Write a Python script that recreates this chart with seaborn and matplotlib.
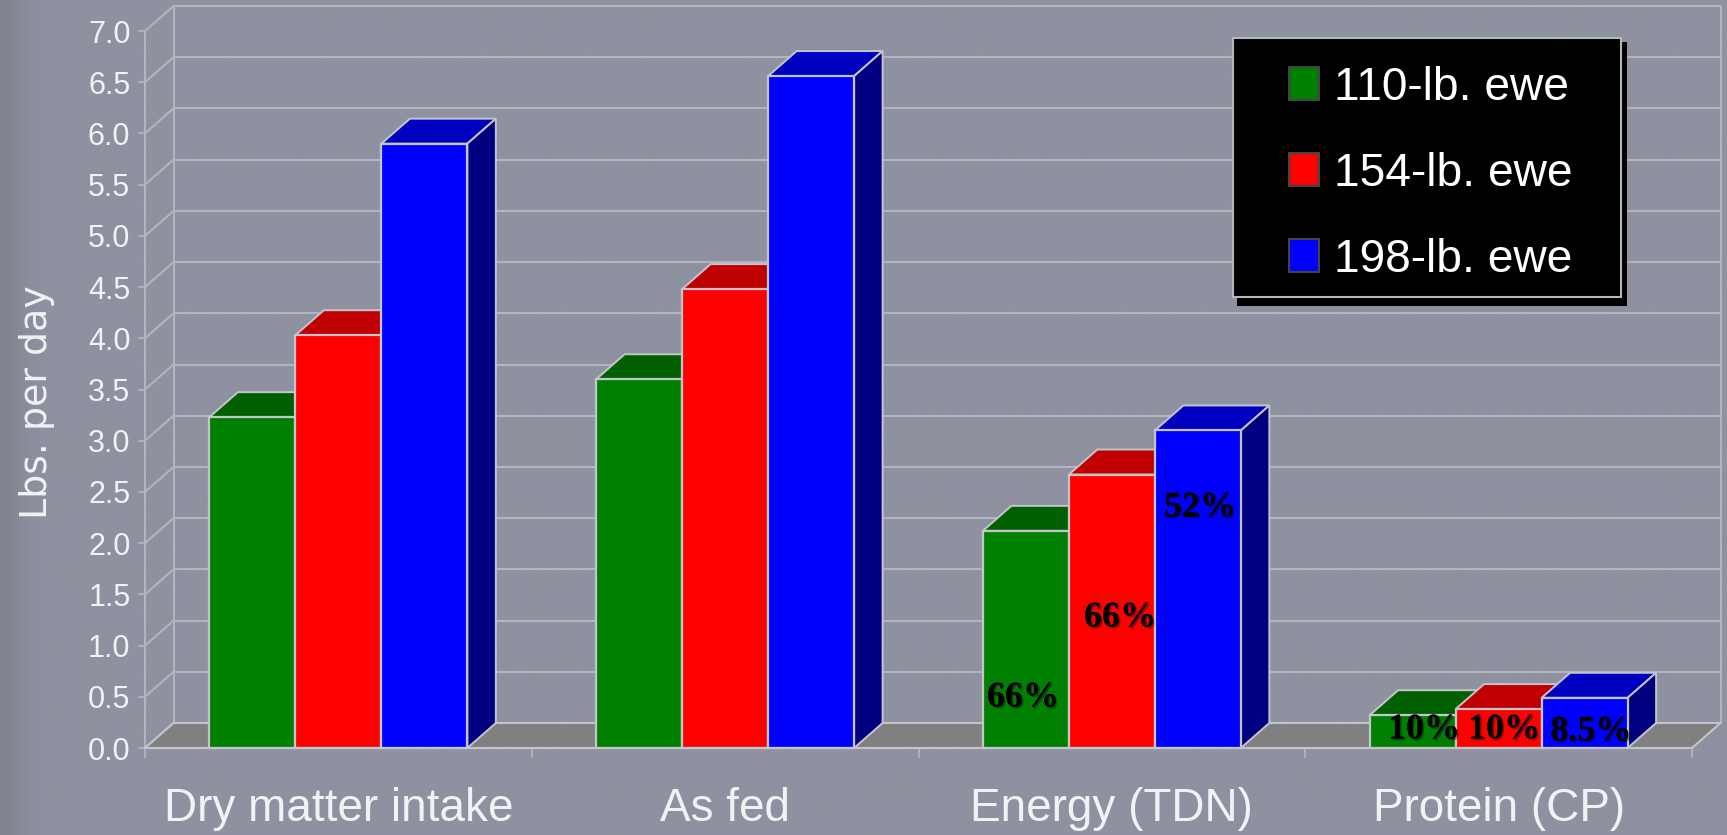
import numpy as np
import pandas as pd
import matplotlib
matplotlib.use("Agg")
import matplotlib.pyplot as plt
from matplotlib.patches import Polygon, Rectangle
from matplotlib import patheffects as pe
import seaborn as sns

categories = ["Dry matter intake", "As fed", "Energy (TDN)", "Protein (CP)"]
ewes = ["110-lb. ewe", "154-lb. ewe", "198-lb. ewe"]
lbs_110 = [3.23, 3.6, 2.12, 0.32]
lbs_154 = [4.03, 4.48, 2.67, 0.38]
lbs_198 = [5.9, 6.56, 3.1, 0.49]
y_ticks = [i / 2 for i in range(15)]
bar_notes = ["66%", "66%", "52%", "10%", "10%", "8.5%"]

W, H = 1727, 835
BG = "#8e919f"
LINE = "#b2b4bf"
EDGE = "#c4c5cc"
front_colors = ["#008000", "#ff0000", "#0000ff"]
top_colors = ["#006000", "#c00000", "#0000c0"]
side_colors = ["#004000", "#800000", "#000080"]

sns.set_theme(style="white", rc={"axes.facecolor": "none", "figure.facecolor": BG})
plt.rcParams["font.family"] = ["Liberation Sans", "DejaVu Sans"]


def fx(px):
    return px / W


def fy(py):
    return 1 - py / H


fig = plt.figure(figsize=(W / 100, H / 100), dpi=100)

# Slide backdrop, slightly darker in a narrow band at the left edge
bg_ax = fig.add_axes([0, 0, 1, 1], zorder=0)
shade = np.ones(100)
shade[:2] = [0.91, 0.97]
bg_rgb = np.array(matplotlib.colors.to_rgb(BG))
bg_ax.imshow(shade[None, :, None] * bg_rgb, aspect="auto", interpolation="bilinear",
             extent=(0, 1, 0, 1))
bg_ax.axis("off")

ax = fig.add_axes([fx(145), fy(748), (1692 - 145) / W, (748 - 31) / H], zorder=1)

df = pd.DataFrame({
    "category": categories * 3,
    "ewe": np.repeat(ewes, len(categories)),
    "lbs": lbs_110 + lbs_154 + lbs_198,
})
sns.barplot(data=df, x="category", y="lbs", hue="ewe", order=categories, hue_order=ewes,
            palette=front_colors, width=0.667, gap=0, edgecolor=EDGE, linewidth=1.6,
            saturation=1, errorbar=None, ax=ax)

ax.set_xlim(-0.5, 3.5)
ax.set_ylim(0, 7)

# Depth of the box expressed in data units
dx = 28.5 / (1547 / 4)
dy = 25 / (717 / 7)

# Floor, back wall and side wall
ax.add_patch(Polygon([(-0.5, 0), (3.5, 0), (3.5 + dx, dy), (-0.5 + dx, dy)],
                     closed=True, facecolor="#808080", edgecolor=EDGE, lw=1.5, zorder=1.5,
                     clip_on=False))
for v in y_ticks:
    ax.plot([-0.5 + dx, 3.5 + dx], [v + dy, v + dy], color=LINE, lw=1.5, zorder=1, clip_on=False)
    ax.plot([-0.5, -0.5 + dx], [v, v + dy], color=LINE, lw=1.5, zorder=1, clip_on=False)
ax.plot([-0.5 + dx, -0.5 + dx], [dy, 7 + dy], color=LINE, lw=1.5, zorder=1, clip_on=False)
ax.plot([3.5 + dx, 3.5 + dx], [dy, 7 + dy], color=LINE, lw=1.5, zorder=1, clip_on=False)

# Top and side faces of each bar, stacked so later series cover earlier ones
for i, container in enumerate(ax.containers):
    for bar in container:
        x0, w, h = bar.get_x(), bar.get_width(), bar.get_height()
        top = [(x0, h), (x0 + w, h), (x0 + w + dx, h + dy), (x0 + dx, h + dy)]
        side = [(x0 + w, 0), (x0 + w + dx, dy), (x0 + w + dx, h + dy), (x0 + w, h)]
        ax.add_patch(Polygon(top, closed=True, facecolor=top_colors[i], edgecolor=EDGE,
                             lw=1.4, zorder=5 + i, clip_on=False))
        ax.add_patch(Polygon(side, closed=True, facecolor=side_colors[i], edgecolor=EDGE,
                             lw=1.4, zorder=5 + i, clip_on=False))
        bar.set_zorder(5.5 + i)
        bar.set_clip_on(False)

# Axes furniture
sns.despine(ax=ax, top=True, right=True, left=True, bottom=True)
ax.plot([-0.5, -0.5], [0, 7], color=LINE, lw=1.5, zorder=1.2, clip_on=False)
ax.plot([-0.5, 3.5], [0, 0], color=EDGE, lw=1.5, zorder=9, clip_on=False)
ax.set_yticks(y_ticks, [f"{v:.1f}" for v in y_ticks])
ax.set_xticks(range(len(categories)), categories)
ax.set_xticks([-0.5, 0.5, 1.5, 2.5, 3.5], minor=True)
ax.tick_params(axis="y", length=5, width=1.3, color=LINE, pad=5.5,
               labelsize=22, labelcolor="#f2f2f5", left=True)
ax.tick_params(axis="x", which="major", length=0, pad=28, labelsize=33, labelcolor="#f2f2f5")
ax.tick_params(axis="x", which="minor", length=7, width=1.3, color=LINE, bottom=True)
ax.set_xlabel("")
ax.set_ylabel("")
fig.text(fx(37), fy(402), "Lbs. per day", rotation=90, ha="center", va="center",
         color="#f2f2f5", fontsize=27.3, family=["DejaVu Sans"])

# Legend panel with its drop shadow
fig_tf = fig.transFigure
ax.add_patch(Rectangle((fx(1237), fy(306)), (1627 - 1237) / W, (306 - 42) / H, transform=fig_tf,
                       facecolor="black", edgecolor="none", zorder=30, clip_on=False))
ax.add_patch(Rectangle((fx(1233), fy(297)), (1621 - 1233) / W, (297 - 38) / H, transform=fig_tf,
                       facecolor="black", edgecolor="#b4b6c0", lw=1.5, zorder=31, clip_on=False))
sns.move_legend(ax, "upper left", bbox_to_anchor=(fx(1289), fy(66)), bbox_transform=fig_tf,
                frameon=False, title=None, fontsize=33.2, labelcolor="white",
                borderpad=0, borderaxespad=0, handlelength=0.64, handleheight=0.73,
                handletextpad=0.34, labelspacing=0.91)
leg = ax.get_legend()
leg.set_zorder(32)
for handle in leg.legend_handles:
    handle.set_edgecolor("#444444")
    handle.set_linewidth(1.5)

# Percentages written over the bars
note_xy = [(1023, 698), (1120, 618), (1200, 508), (1424, 730), (1504, 730), (1591, 732)]
for note, (nx, ny) in zip(bar_notes, note_xy):
    fig.text(fx(nx), fy(ny), note, ha="center", va="center", color="black", fontsize=26,
             family=["Liberation Serif"], fontweight="bold", zorder=40,
             path_effects=[pe.withSimplePatchShadow(offset=(1.2, -1.2), shadow_rgbFace="black",
                                                    alpha=0.35),
                           pe.Normal()])

fig.savefig("out.png", dpi=100, facecolor=BG)
